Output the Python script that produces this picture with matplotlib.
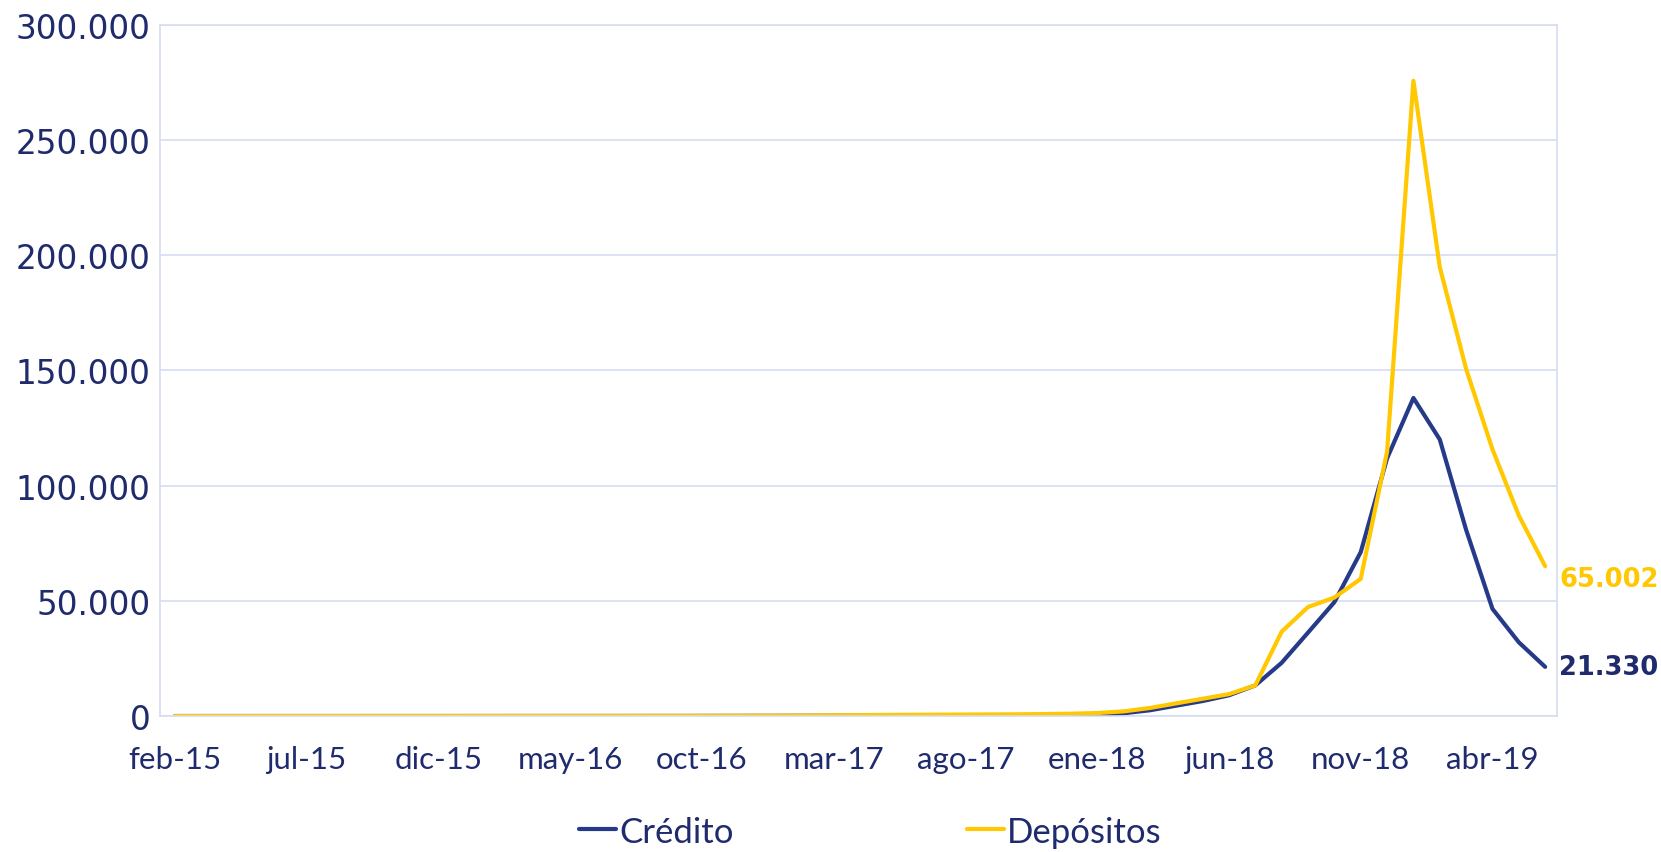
import matplotlib.pyplot as plt
import numpy as np
from matplotlib.ticker import FuncFormatter

# monthly series feb-15 .. jun-19
meses = ['ene', 'feb', 'mar', 'abr', 'may', 'jun', 'jul', 'ago', 'sep', 'oct', 'nov', 'dic']
fechas = ['%s-%02d' % (meses[(1 + k) % 12], 15 + (1 + k) // 12) for k in range(53)]

credito = [5, 5, 6, 6, 7, 8, 9, 10, 11, 12, 14, 16,
           18, 20, 23, 26, 30, 34, 40, 46, 55, 65, 80, 95,
           110, 130, 150, 170, 190, 210, 240, 270, 300, 350, 450, 650,
           1200, 2500, 4500, 6500, 9000, 13300, 23100, 36200, 49400, 71100,
           111800, 138000, 120000, 80800, 46500, 32000, 21330]
depositos = [8, 8, 9, 10, 11, 12, 13, 15, 17, 19, 22, 25,
             28, 32, 36, 41, 47, 54, 62, 72, 85, 100, 120, 150,
             200, 300, 400, 500, 550, 600, 650, 700, 750, 850, 1000, 1300,
             2000, 3500, 5500, 7500, 9500, 13300, 36600, 47300, 51400, 59500,
             114700, 275600, 194800, 150600, 115700, 87000, 65002]

c_cred = '#263A8A'
c_dep = '#FFC800'
c_text = '#1F2B6C'
c_grid = '#D6DBF2'

fig = plt.figure(figsize=(16.61, 8.53), dpi=100)
ax = fig.add_axes([0.0963, 0.1594, 0.8411, 0.8106])

x = np.arange(len(fechas))
ax.plot(x, credito, color=c_cred, lw=3, label='Crédito', solid_capstyle='round')
ax.plot(x, depositos, color=c_dep, lw=3, label='Depósitos', solid_capstyle='round')

ax.set_xlim(-0.57, 52.45)
ax.set_ylim(0, 300000)
ax.set_yticks(np.arange(0, 300001, 50000))
ax.yaxis.set_major_formatter(FuncFormatter(lambda v, p: '{:,}'.format(int(v)).replace(',', '.')))
ax.set_xticks(x[::5])
ax.set_xticklabels(fechas[::5], family='Lato', fontsize=22.5, color=c_text)
for t in ax.get_yticklabels():
    t.set_family('DejaVu Sans')
    t.set_fontsize(23.5)
    t.set_color(c_text)
ax.tick_params(axis='x', length=0, pad=21)
ax.tick_params(axis='y', length=0, pad=7)

ax.grid(axis='y', color=c_grid, lw=1.2)
ax.set_axisbelow(True)
for s in ax.spines.values():
    s.set_color(c_grid)
    s.set_linewidth(1.2)

# last value labels
ax.annotate('21.330', (x[-1], credito[-1]), xytext=(10, 0), textcoords='offset points',
            ha='left', va='center', fontsize=18.5, fontweight='bold', color=c_text,
            family='DejaVu Sans', annotation_clip=False)
ax.annotate('65.002', (x[-1], depositos[-1]), xytext=(10, -9), textcoords='offset points',
            ha='left', va='center', fontsize=18.5, fontweight='bold', color=c_dep,
            family='DejaVu Sans', annotation_clip=False)

leg = fig.legend(loc='center', bbox_to_anchor=(0.524, 0.024), ncol=2, frameon=False,
                 prop={'family': 'Lato', 'size': 25}, handlelength=1.07, handletextpad=0.1,
                 columnspacing=6.7)
for t in leg.get_texts():
    t.set_color(c_text)

fig.savefig('out.png', dpi=100)
